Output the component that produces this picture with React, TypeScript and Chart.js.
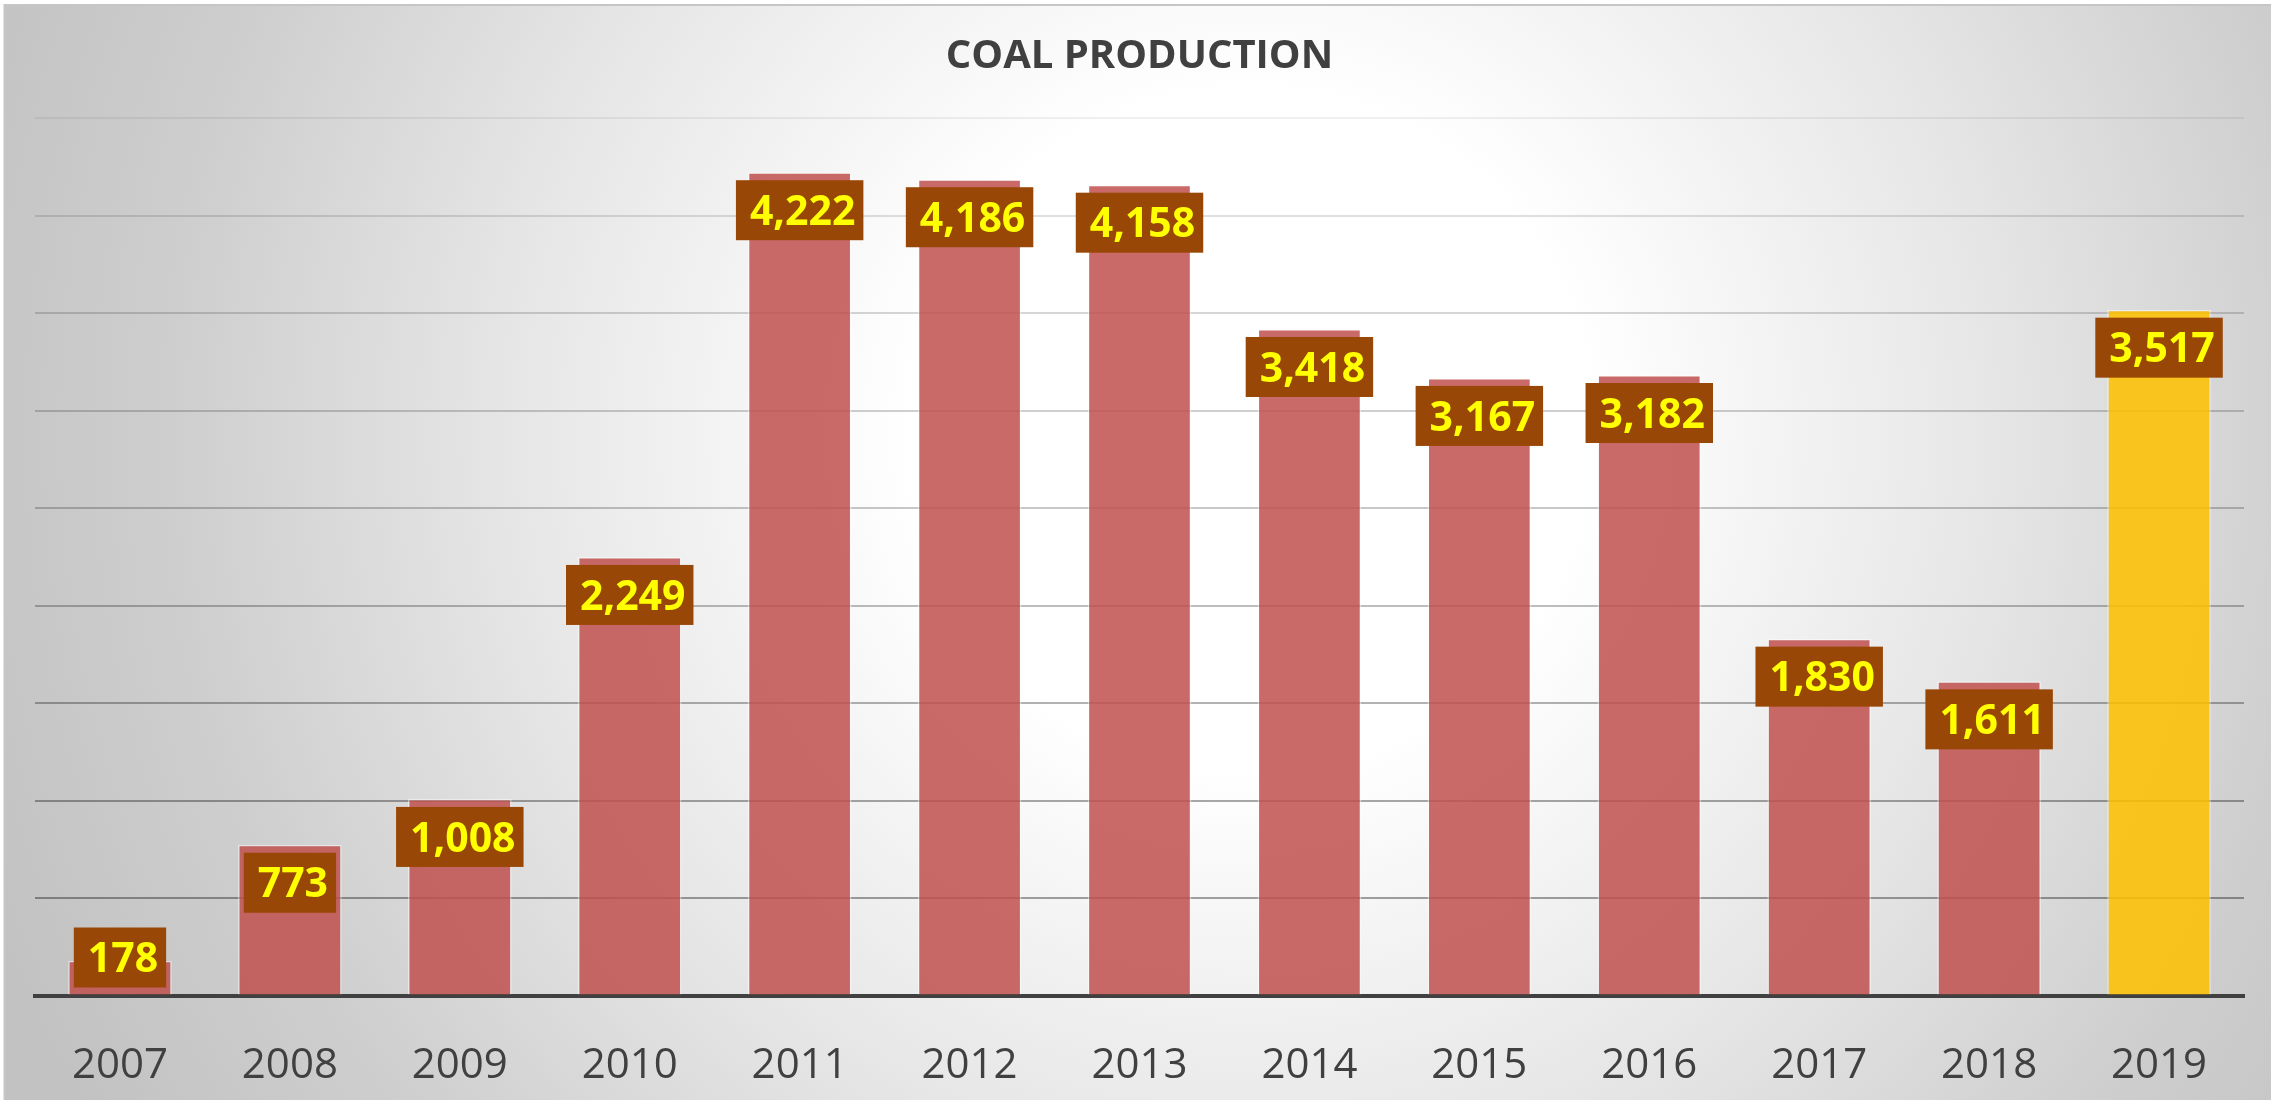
import React, { useEffect, useRef } from "react";
import { Chart, registerables } from "chart.js";

Chart.register(...registerables);

// ---- data ----
const years = ["2007", "2008", "2009", "2010", "2011", "2012", "2013", "2014", "2015", "2016", "2017", "2018", "2019"];
const production = [178, 773, 1008, 2249, 4222, 4186, 4158, 3418, 3167, 3182, 1830, 1611, 3517];
const highlightYear = "2019";
const chartTitle = "COAL PRODUCTION";
const yMin = 0;
const yMax = 4500;
const yStep = 500;

// ---- style ----
const W = 2271;
const H = 1100;
const gridAlphas = [0, 0.36, 0.34, 0.3, 0.26, 0.22, 0.19, 0.16, 0.12, 0.06];

export default function App() {
  const ref = useRef<HTMLCanvasElement>(null);

  useEffect(() => {
    const canvas = ref.current;
    if (!canvas) return;

    const bgPlugin = {
      id: "bgPlugin",
      beforeDraw(chart: any) {
        const ctx = chart.ctx as CanvasRenderingContext2D;
        ctx.save();
        ctx.fillStyle = "#ffffff";
        ctx.fillRect(0, 0, W, H);
        const g = ctx.createRadialGradient(1250, 430, 0, 1250, 430, 1350);
        g.addColorStop(0, "#ffffff");
        g.addColorStop(0.25, "#ffffff");
        g.addColorStop(0.55, "#e6e6e6");
        g.addColorStop(0.8, "#cecece");
        g.addColorStop(1, "#c2c2c2");
        ctx.fillStyle = g;
        ctx.fillRect(5, 6, W - 5, H - 6);
        ctx.strokeStyle = "#c6c6c6";
        ctx.lineWidth = 2;
        ctx.beginPath();
        ctx.moveTo(4.5, H);
        ctx.lineTo(4.5, 5);
        ctx.lineTo(W, 5);
        ctx.stroke();
        ctx.restore();
      },
    };

    const labelPlugin = {
      id: "valueBoxes",
      afterDatasetsDraw(chart: any) {
        const ctx = chart.ctx as CanvasRenderingContext2D;
        const meta = chart.getDatasetMeta(0);
        const base = chart.scales.y.getPixelForValue(0);
        const size = 41;
        ctx.save();
        ctx.font = `bold ${size}px "Open Sans"`;
        ctx.textAlign = "center";
        ctx.textBaseline = "alphabetic";
        meta.data.forEach((bar: any, i: number) => {
          const text = production[i].toLocaleString("en-US");
          const tw = ctx.measureText(text).width;
          const bw = tw + 22;
          const bh = 60;
          let top = bar.y + 8;
          if (top + bh > base - 8) top = base - 8 - bh;
          const left = bar.x - bw / 2;
          ctx.fillStyle = "#994706";
          ctx.fillRect(left, top, bw, bh);
          ctx.fillStyle = "#ffff00";
          ctx.fillText(text, bar.x + 3, top + bh / 2 + (size * 0.714) / 2);
        });
        ctx.restore();
      },
    };

    const chart = new Chart(canvas, {
      type: "bar",
      data: {
        labels: years,
        datasets: [
          {
            data: production,
            backgroundColor: (c: any) =>
              years[c.dataIndex] === highlightYear ? "rgba(255,192,0,0.86)" : "rgba(192,80,77,0.85)",
            borderColor: "rgba(255,255,255,0.45)",
            borderWidth: 1.5,
            barPercentage: 0.61,
            categoryPercentage: 1.0,
          },
        ],
      },
      options: {
        animation: false,
        responsive: false,
        devicePixelRatio: 1,
        layout: { padding: { left: 35, right: 27, top: 0, bottom: 0 } },
        plugins: {
          legend: { display: false },
          tooltip: { enabled: false },
          title: {
            display: true,
            text: chartTitle,
            color: "#404040",
            font: { family: "'Open Sans'", size: 40, weight: "bold" },
            padding: { top: 33, bottom: 37 },
          },
        },
        scales: {
          x: {
            z: 1,
            grid: { display: false },
            border: { display: true, color: "#404040", width: 4 },
            ticks: {
              color: "#404040",
              font: { family: "'Open Sans'", size: 42 },
              padding: 37,
              maxRotation: 0,
            },
            afterFit: (s: any) => {
              s.height = 104.5;
            },
          },
          y: {
            min: yMin,
            max: yMax,
            ticks: { display: false, stepSize: yStep },
            border: { display: false },
            grid: {
              drawTicks: false,
              lineWidth: 2,
              color: (c: any) => `rgba(0,0,0,${gridAlphas[c.index] ?? 0.1})`,
            },
            afterFit: (s: any) => {
              s.width = 0;
            },
          },
        },
      },
      plugins: [bgPlugin, labelPlugin],
    } as any);

    return () => chart.destroy();
  }, []);

  return (
    <div style={{ position: "absolute", left: 0, top: 0, width: W, height: H }}>
      <canvas ref={ref} width={W} height={H} style={{ display: "block", width: W, height: H }} />
    </div>
  );
}
